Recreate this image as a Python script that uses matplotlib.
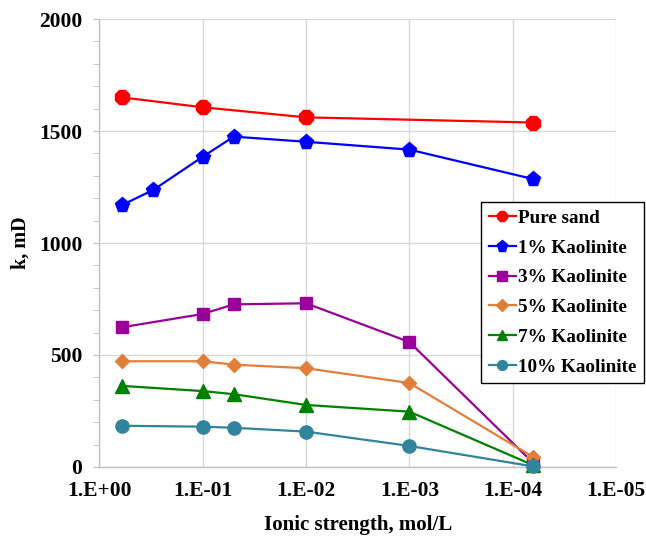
import matplotlib
matplotlib.use("Agg")
import matplotlib.pyplot as plt
from matplotlib.ticker import FixedLocator, MultipleLocator, NullLocator

# Data (ionic strength in mol/L, permeability k in mD)
x_red = [0.6, 0.1, 0.01, 6.4e-5]
k_pure_sand = [1650, 1606, 1561, 1538]

x_blue = [0.6, 0.3, 0.1, 0.05, 0.01, 0.001, 6.4e-5]
k_1pct = [1170, 1237, 1385, 1475, 1452, 1417, 1286]

x_other = [0.6, 0.1, 0.05, 0.01, 0.001, 6.4e-5]
k_3pct = [624, 683, 726, 731, 558, 20]
k_5pct = [472, 472, 457, 441, 375, 46]
k_7pct = [362, 339, 325, 277, 247, 9]
k_10pct = [184, 180, 175, 158, 94, 3]

series_labels = ["Pure sand", "1% Kaolinite", "3% Kaolinite",
                 "5% Kaolinite", "7% Kaolinite", "10% Kaolinite"]
xtick_values = [1, 1e-1, 1e-2, 1e-3, 1e-4, 1e-5]
xtick_labels = ["1.E+00", "1.E-01", "1.E-02", "1.E-03", "1.E-04", "1.E-05"]

plt.rcParams['font.family'] = ['Liberation Serif', 'DejaVu Serif']
plt.rcParams['font.weight'] = 'bold'

fig = plt.figure(figsize=(6.46, 5.39), dpi=100)
ax = fig.add_axes([0.1537, 0.1336, 0.7999, 0.8311])

styles = [
    (x_red, k_pure_sand, '#FF0000', '8', 11),
    (x_blue, k_1pct, '#0000FF', 'p', 11),
    (x_other, k_3pct, '#990099', 's', 9),
    (x_other, k_5pct, '#E07F3A', 'D', 7.5),
    (x_other, k_7pct, '#008000', '^', 9.5),
    (x_other, k_10pct, '#31849B', 'o', 9.5),
]
for (xs, ys, c, m, ms), lab in zip(styles, series_labels):
    ax.plot(xs, ys, color=c, marker=m, markersize=ms, linewidth=1.6,
            markeredgecolor=c, label=lab, clip_on=False, zorder=3)

ax.set_xscale('log')
ax.set_xlim(1, 1e-5)
ax.set_ylim(0, 2000)
ax.xaxis.set_major_locator(FixedLocator(xtick_values))
ax.xaxis.set_minor_locator(NullLocator())
ax.set_xticklabels(xtick_labels)
ax.yaxis.set_major_locator(MultipleLocator(500))
ax.yaxis.set_minor_locator(MultipleLocator(100))

grid_c = '#D9D9D9'
ax.grid(True, which='major', color=grid_c, linewidth=1.0, zorder=0)
ax.set_axisbelow(True)
for s in ['top', 'right']:
    ax.spines[s].set_visible(False)
for s in ['left', 'bottom']:
    ax.spines[s].set_color('#BFBFBF')
    ax.spines[s].set_linewidth(1.0)

ax.tick_params(axis='x', which='both', length=0, pad=10, labelsize=15.5)
ax.tick_params(axis='y', which='major', length=4.3, color='#BFBFBF', pad=8, labelsize=15.5)
ax.tick_params(axis='y', which='minor', length=4.3, color='#BFBFBF')
for t in ax.get_xticklabels() + ax.get_yticklabels():
    t.set_fontweight('bold')

ax.set_xlabel("Ionic strength, mol/L", fontsize=15, fontweight='bold', labelpad=10)
ax.set_ylabel("k, mD", fontsize=14.5, fontweight='bold', labelpad=6)

leg = ax.legend(loc='upper left', bbox_to_anchor=(0.739, 0.5915), borderaxespad=0,
                frameon=True, fancybox=False, edgecolor='black', framealpha=1,
                prop={'weight': 'bold', 'size': 13.8}, handlelength=1.4,
                handletextpad=0.1, labelspacing=0.64, borderpad=0.4, markerscale=0.75)
leg.get_frame().set_linewidth(1.0)

fig.savefig("out.png", dpi=100)
